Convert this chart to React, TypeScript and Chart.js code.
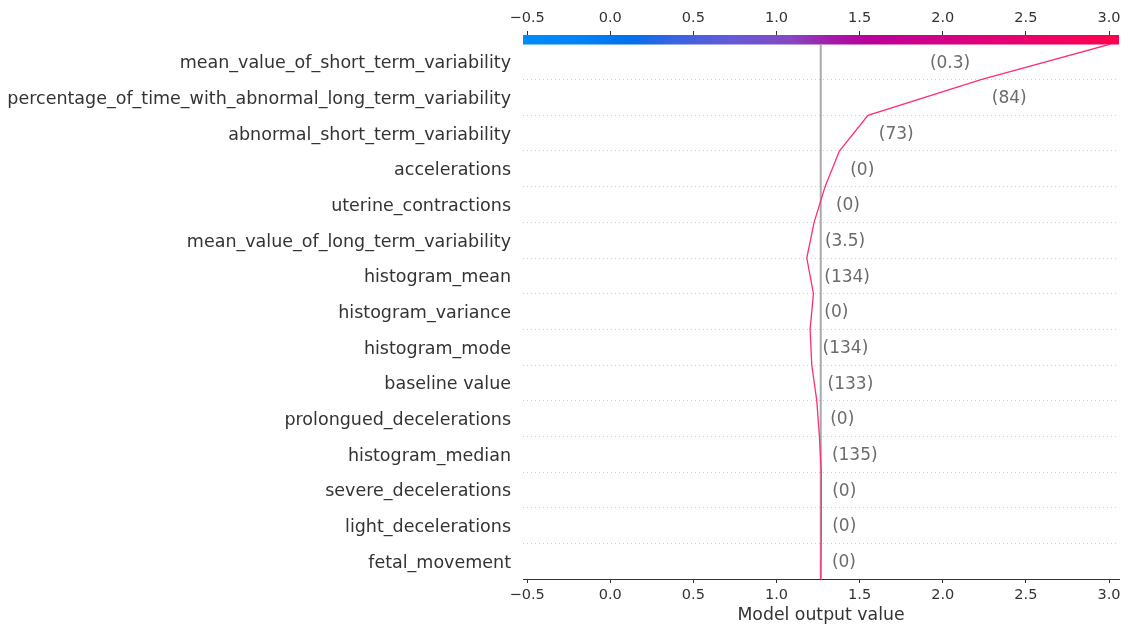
import React, { useEffect, useRef } from 'react';
import { Chart, registerables } from 'chart.js';

Chart.register(...registerables);

// Features, listed top to bottom as displayed
const featureNames = [
  'mean_value_of_short_term_variability',
  'percentage_of_time_with_abnormal_long_term_variability',
  'abnormal_short_term_variability',
  'accelerations',
  'uterine_contractions',
  'mean_value_of_long_term_variability',
  'histogram_mean',
  'histogram_variance',
  'histogram_mode',
  'baseline value',
  'prolongued_decelerations',
  'histogram_median',
  'severe_decelerations',
  'light_decelerations',
  'fetal_movement',
];

// Observed feature values, same order as featureNames
const featureValues = ['0.3', '84', '73', '0', '0', '3.5', '134', '0', '134', '133', '0', '135', '0', '0', '0'];

// Expected (base) model output
const baseValue = 1.266;

// Model output after each feature is added, from the base value (bottom) up to the prediction (top)
const outputPath = [1.266, 1.268, 1.27, 1.268, 1.258, 1.242, 1.212, 1.202, 1.222, 1.182, 1.226, 1.292, 1.378, 1.55, 2.23, 3.01];

const xTicks = [-0.5, 0, 0.5, 1, 1.5, 2, 2.5, 3];
const xMin = -0.525;
const xMax = 3.06;

const FONT = '"DejaVu Sans", Verdana, sans-serif';
const TEXT = '#333333';

// Red-blue colour ramp used for the colour bar
const rampStops: [number, string][] = [
  [0, 'rgb(0,140,250)'],
  [0.1, 'rgb(0,130,245)'],
  [0.18, 'rgb(0,112,235)'],
  [0.25, 'rgb(55,100,225)'],
  [0.35, 'rgb(100,90,215)'],
  [0.45, 'rgb(135,70,195)'],
  [0.52, 'rgb(165,25,170)'],
  [0.58, 'rgb(185,0,155)'],
  [0.7, 'rgb(210,0,135)'],
  [0.85, 'rgb(235,0,105)'],
  [1, 'rgb(255,0,80)'],
];

const fmtTick = (v: number) => (v < 0 ? '\u2212' + Math.abs(v).toFixed(1) : v.toFixed(1));
const nRows = featureNames.length;

const colorBarPlugin = {
  id: 'colorBar',
  beforeDatasetsDraw(chart: any) {
    const { ctx, chartArea } = chart;
    const g = ctx.createLinearGradient(chartArea.left, 0, chartArea.right, 0);
    rampStops.forEach(([p, c]) => g.addColorStop(p, c));
    ctx.save();
    ctx.fillStyle = g;
    ctx.fillRect(chartArea.left, chartArea.top - 9, chartArea.right - chartArea.left, 9.5);
    ctx.restore();
  },
};

const valueLabelPlugin = {
  id: 'valueLabels',
  afterDatasetsDraw(chart: any) {
    const { ctx } = chart;
    const xs = chart.scales.x;
    const ys = chart.scales.y;
    ctx.save();
    ctx.font = `17px ${FONT}`;
    ctx.fillStyle = '#6b6b6b';
    ctx.textBaseline = 'middle';
    for (let j = 0; j < nRows; j++) {
      const a = outputPath[j];
      const b = outputPath[j + 1];
      const val = featureValues[nRows - 1 - j];
      const y = ys.getPixelForValue(j + 0.5) + 1.5;
      const right = '  (' + val + ')';
      const xr = xs.getPixelForValue(Math.max(a, b));
      if (xr + ctx.measureText(right).width > chart.width) {
        ctx.textAlign = 'right';
        ctx.fillText('(' + val + ')  ', xs.getPixelForValue(Math.min(a, b)), y);
      } else {
        ctx.textAlign = 'left';
        ctx.fillText(right, xr, y);
      }
    }
    ctx.restore();
  },
};

export default function App() {
  const canvasRef = useRef<HTMLCanvasElement | null>(null);

  useEffect(() => {
    if (!canvasRef.current) return;
    const setTicks = (s: any) => {
      s.ticks = xTicks.map((v) => ({ value: v }));
    };
    const chart = new Chart(canvasRef.current, {
      type: 'line',
      data: {
        datasets: [
          {
            label: 'decision',
            data: outputPath.map((x, j) => ({ x, y: j })),
            borderColor: 'rgb(255,45,115)',
            borderWidth: 1.3,
            pointRadius: 0,
            tension: 0,
            order: 0,
            xAxisID: 'x',
            yAxisID: 'y',
          },
          {
            label: 'base',
            data: [
              { x: baseValue, y: 0 },
              { x: baseValue, y: nRows },
            ],
            borderColor: '#aaaaaa',
            borderWidth: 2,
            pointRadius: 0,
            order: 1,
            xAxisID: 'x',
            yAxisID: 'y',
          },
        ],
      },
      options: {
        animation: false,
        responsive: false,
        devicePixelRatio: 1,
        layout: { padding: { left: 0, right: 7, top: 0, bottom: 0 } },
        plugins: { legend: { display: false }, tooltip: { enabled: false } },
        scales: {
          x: {
            type: 'linear',
            position: 'bottom',
            min: xMin,
            max: xMax,
            afterBuildTicks: setTicks,
            afterFit: (s: any) => {
              s.height = 47;
            },
            ticks: {
              callback: (v: any) => fmtTick(Number(v)),
              color: TEXT,
              font: { family: FONT, size: 14.5 },
              padding: 4,
              maxRotation: 0,
              autoSkip: false,
            },
            grid: { drawOnChartArea: false, tickLength: 4, color: TEXT, tickWidth: 1 },
            border: { color: TEXT, width: 1 },
            title: {
              display: true,
              text: 'Model output value',
              color: TEXT,
              font: { family: FONT, size: 17.3 },
              padding: { top: 0, bottom: 0 },
            },
          },
          x2: {
            type: 'linear',
            position: 'top',
            min: xMin,
            max: xMax,
            afterBuildTicks: setTicks,
            afterFit: (s: any) => {
              s.height = 44;
            },
            ticks: {
              callback: (v: any) => fmtTick(Number(v)),
              color: TEXT,
              font: { family: FONT, size: 14.5 },
              padding: 4,
              maxRotation: 0,
              autoSkip: false,
            },
            grid: { drawOnChartArea: false, tickLength: 13, color: TEXT, tickWidth: 1 },
            border: { display: false },
          },
          y: {
            type: 'linear',
            position: 'left',
            min: 0,
            max: nRows,
            afterBuildTicks: (s: any) => {
              s.ticks = featureNames.map((_, j) => ({ value: j + 0.5 }));
            },
            afterFit: (s: any) => {
              s.width = 523;
            },
            ticks: {
              callback: (v: any) => featureNames[nRows - 1 - Math.floor(Number(v))],
              color: TEXT,
              font: { family: FONT, size: 17.5 },
              padding: 12,
              labelOffset: 2,
              autoSkip: false,
            },
            grid: { display: false, drawTicks: false, tickLength: 0 },
            border: { display: false },
          },
          yGrid: {
            type: 'linear',
            position: 'left',
            min: 0,
            max: nRows,
            afterBuildTicks: (s: any) => {
              const t: any[] = [];
              for (let i = 1; i < nRows; i++) t.push({ value: i });
              s.ticks = t;
            },
            afterFit: (s: any) => {
              s.width = 0;
            },
            ticks: { display: false },
            grid: { color: '#cccccc', lineWidth: 1, drawTicks: false, tickLength: 0 },
            border: { display: false, dash: [1, 3] },
          },
        },
      } as any,
      plugins: [colorBarPlugin, valueLabelPlugin],
    });
    return () => chart.destroy();
  }, []);

  return (
    <div style={{ position: 'absolute', left: 0, top: 0, width: 1126, height: 626, background: '#fff' }}>
      <canvas ref={canvasRef} width={1126} height={626} />
    </div>
  );
}
